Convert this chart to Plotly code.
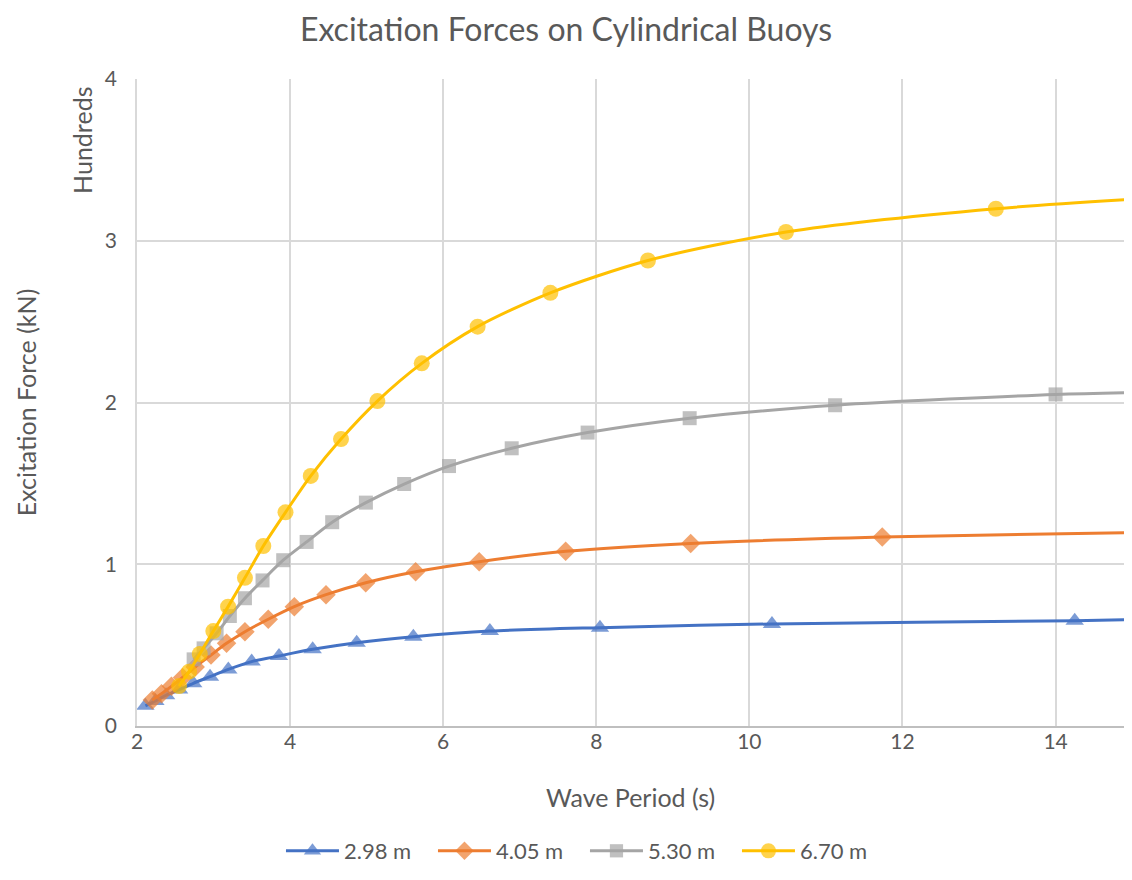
import plotly.graph_objects as go

# wave period (s) and excitation force (kN)
# the last entry of each series is where the line leaves the plot at 15 s
period_298 = [2.11, 2.24, 2.38, 2.55, 2.735, 2.954, 3.193, 3.498, 3.855, 4.295,
              4.870, 5.610, 6.610, 8.048, 10.295, 14.25, 15.0]
force_298 = [12.5, 15.5, 19.0, 22.5, 26.4, 30.5, 35.0, 39.8, 43.3, 47.4,
             51.5, 55.2, 58.7, 60.8, 63.1, 65.1, 65.8]

period_405 = [2.20, 2.32, 2.45, 2.595, 2.76, 2.967, 3.17, 3.41, 3.715, 4.055,
              4.469, 4.988, 5.64, 6.47, 7.60, 9.233, 11.736, 15.0]
force_405 = [16.0, 20.0, 24.5, 30.0, 36.5, 43.9, 51.1, 58.3, 66.0, 73.8,
             81.2, 88.6, 95.4, 101.6, 108.0, 112.9, 116.9, 119.6]

period_530 = [2.74, 2.87, 3.04, 3.213, 3.41, 3.64, 3.91, 4.216, 4.55, 4.99,
              5.49, 6.076, 6.895, 7.887, 9.22, 11.12, 14.0, 15.0]
force_530 = [41.2, 48.0, 57.3, 68.0, 79.0, 90.0, 102.5, 113.8, 126.0, 138.1,
             149.6, 160.7, 171.7, 181.4, 190.3, 198.3, 205.0, 206.2]

period_670 = [2.55, 2.68, 2.82, 2.997, 3.19, 3.41, 3.65, 3.94, 4.27, 4.665,
              5.14, 5.72, 6.45, 7.40, 8.675, 10.478, 13.22, 15.0]
force_670 = [24.7, 33.6, 44.5, 58.7, 73.8, 91.6, 111.3, 132.1, 154.6, 177.4,
             200.9, 224.2, 246.9, 267.8, 287.8, 305.4, 319.8, 325.6]

series = [
    ("2.98 m", period_298, force_298, "#4472C4", "triangle-up", 16),
    ("4.05 m", period_405, force_405, "#ED7D31", "diamond", 15),
    ("5.30 m", period_530, force_530, "#A5A5A5", "square", 14),
    ("6.70 m", period_670, force_670, "#FFC000", "circle", 16),
]

FONT = "Lato"
GREY = "#595959"

fig = go.Figure()
for name, xs, ys, color, symbol, size in series:
    # axis shows values in hundreds of kN
    yh = [v / 100 for v in ys]
    sizes = [size] * (len(xs) - 1) + [0]
    fig.add_trace(go.Scatter(
        x=xs, y=yh, name=name,
        mode="lines+markers",
        line=dict(color=color, width=3, shape="spline", smoothing=0.8),
        marker=dict(symbol=symbol, size=sizes, color=color, line=dict(width=0)),
    ))

# page body adds an 8px margin all round, so the figure is 16px smaller than the window
fig.update_layout(
    width=1116, height=864,
    paper_bgcolor="white", plot_bgcolor="white",
    margin=dict(l=129, r=0, t=71, b=146),
    font=dict(family=FONT, size=21, color=GREY),
    title=dict(text="Excitation Forces on Cylindrical Buoys",
               x=0.5, xref="container", xanchor="center",
               y=0.975, yref="container", yanchor="middle",
               font=dict(family=FONT, size=32, color=GREY)),
    showlegend=True,
    legend=dict(orientation="h", x=0.517, xref="container", xanchor="center",
                y=-0.006, yref="container", yanchor="bottom",
                font=dict(size=22, color=GREY), entrywidth=84,
                itemwidth=53),
    xaxis=dict(range=[2, 14.894], dtick=2, tick0=2, showgrid=True,
               gridcolor="#D9D9D9", gridwidth=1.5, zeroline=False,
               showline=True, linecolor="#BFBFBF", linewidth=1.5,
               ticks="", ticklabelstandoff=-4,
               tickfont=dict(size=21, color=GREY)),
    yaxis=dict(range=[0, 4], dtick=1, showgrid=True,
               gridcolor="#D9D9D9", gridwidth=1.5, zeroline=False,
               showline=True, linecolor="#D9D9D9", linewidth=1.5,
               ticks="outside", ticklen=14, tickcolor="rgba(0,0,0,0)",
               tickfont=dict(size=21, color=GREY)),
    annotations=[
        dict(text="Wave Period (s)", xref="paper", yref="paper",
             x=0.5, y=-0.11, showarrow=False, yanchor="middle",
             font=dict(size=25, color=GREY)),
        dict(text="Excitation Force (kN)", xref="paper", yref="paper",
             x=-0.1126, y=0.5, textangle=-90, showarrow=False,
             xanchor="center", yanchor="middle",
             font=dict(size=25, color=GREY)),
        dict(text="Hundreds", xref="paper", yref="paper",
             x=-0.0553, y=0.905, textangle=-90, showarrow=False,
             xanchor="center", yanchor="middle",
             font=dict(size=25, color=GREY)),
    ],
)

fig.write_html("out.html")
